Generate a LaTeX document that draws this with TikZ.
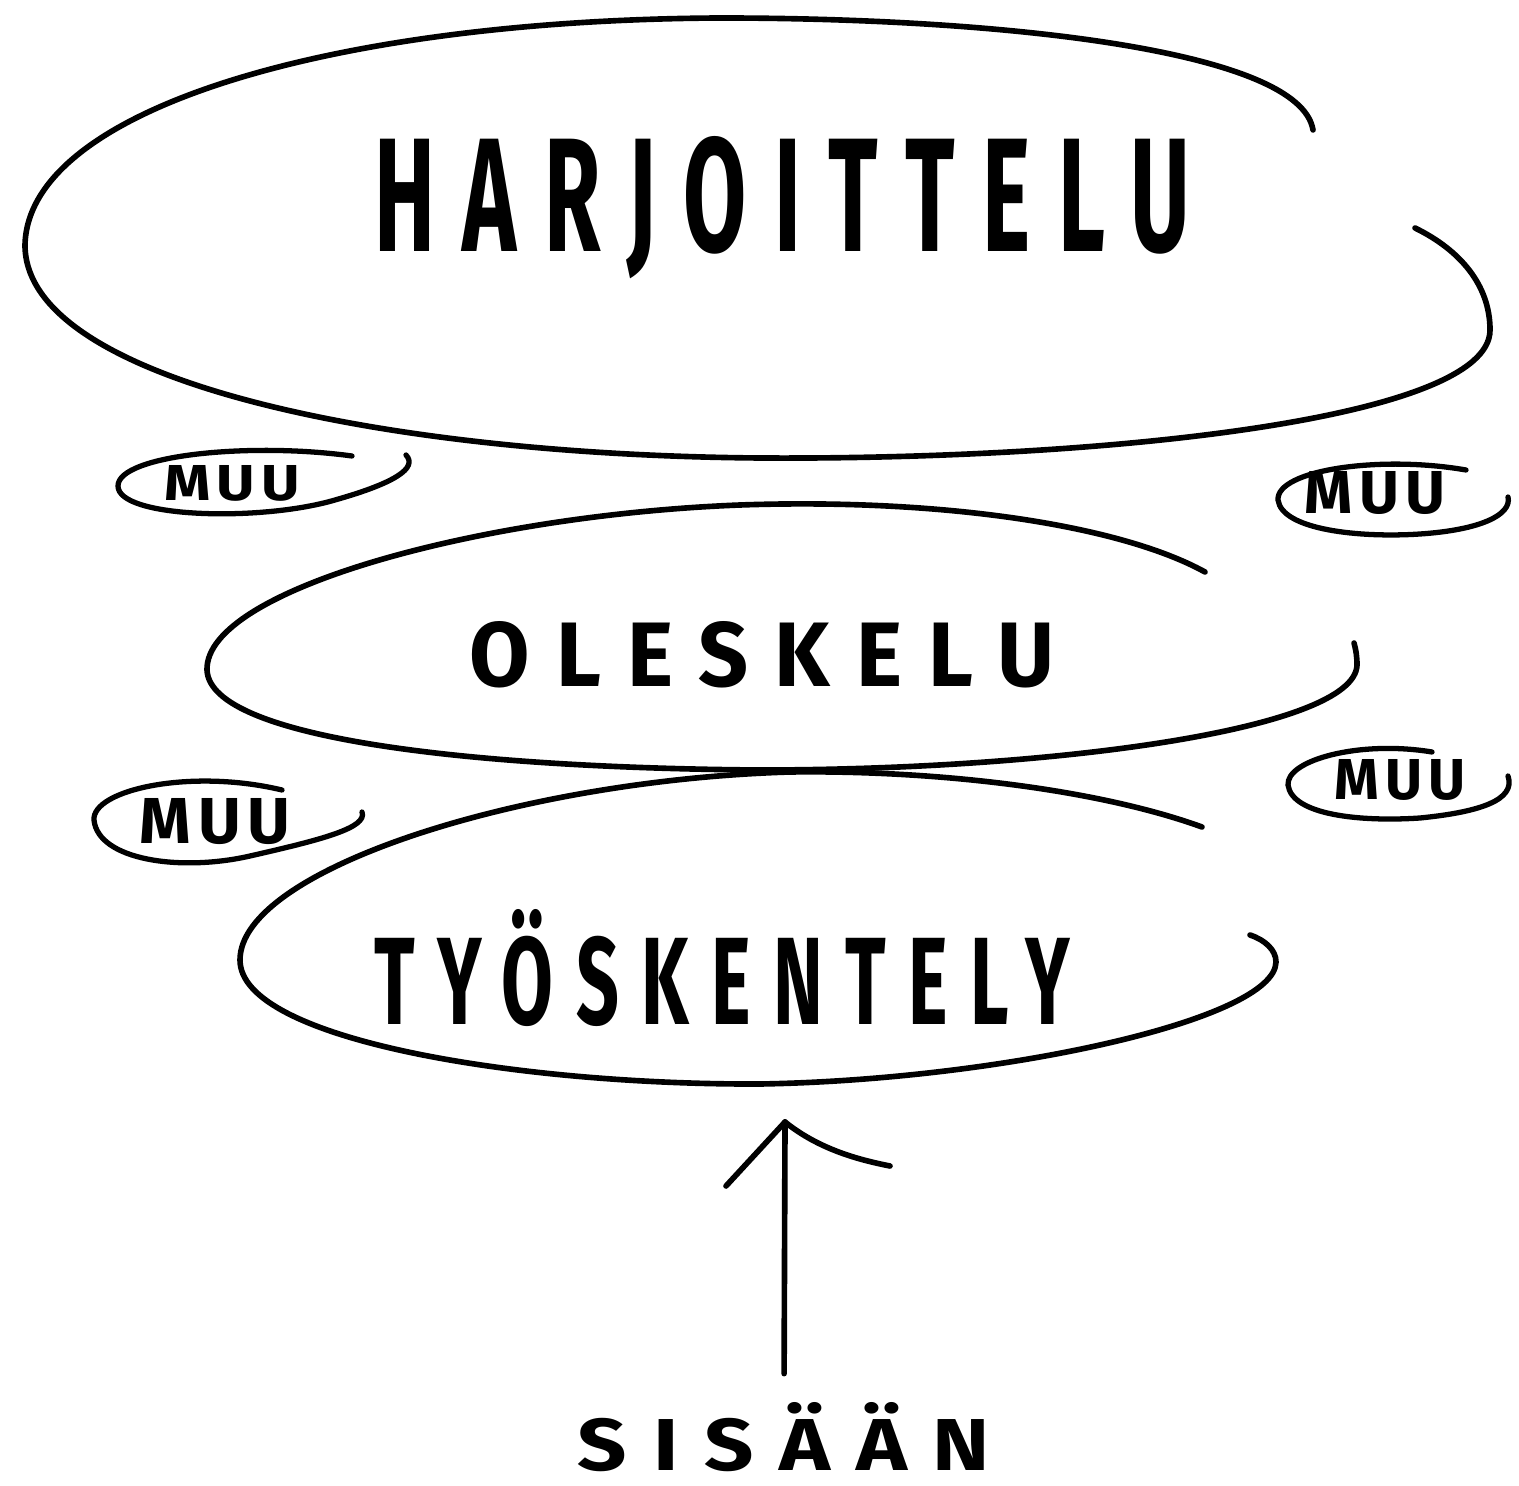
\documentclass[tikz,border=0pt]{standalone}
\usepackage{fontspec}
\setmainfont{Fira Sans}
\newfontfamily\handfont[LetterSpace=30]{Fira Sans}
\newfontfamily\muufont[LetterSpace=10]{Fira Sans}
\usetikzlibrary{arrows.meta}

\newcommand{\handword}[3]{\resizebox{#1}{#2}{#3}}

\begin{document}
\begin{tikzpicture}[
        x=0.01cm, y=-0.01cm,
        % hand drawn look
        loop_line/.style={draw=black, line width=1.6pt, line cap=round},
        muu_line/.style={draw=black, line width=1.5pt, line cap=round},
        word/.style={inner sep=0pt, font=\handfont\bfseries},
        muu_word/.style={inner sep=0pt, font=\muufont\bfseries}
    ]

    \useasboundingbox (0,0) rectangle (1519,1486);

    % --- words ---
    \node[word] (harjoittelu) at (782,208) {\handword{8.15cm}{1.15cm}{HARJOITTELU}};
    \node[word] (oleskelu) at (762,655) {\handword{5.85cm}{0.65cm}{OLESKELU}};
    \node[word] (tyoskentely) at (722,968) {\handword{6.95cm}{1.15cm}{TYÖSKENTELY}};
    \node[word] (sisaan) at (784,1437) {\handword{4.12cm}{0.68cm}{SISÄÄN}};

    \node[muu_word] (muu_a) at (232,483) {\handword{1.35cm}{0.35cm}{MUU}};
    \node[muu_word] (muu_b) at (1375,493) {\handword{1.4cm}{0.42cm}{MUU}};
    \node[muu_word] (muu_c) at (215,822) {\handword{1.5cm}{0.45cm}{MUU}};
    \node[muu_word] (muu_d) at (1400,780) {\handword{1.3cm}{0.4cm}{MUU}};

    % --- spiral loops ---
    \draw[loop_line] (1313,130) .. controls (1300,50) and (1000,18) .. (720,18)
        .. controls (330,20) and (28,110) .. (25,245)
        .. controls (25,380) and (380,455) .. (760,458)
        .. controls (1100,460) and (1490,420) .. (1490,330)
        .. controls (1490,285) and (1460,250) .. (1415,228);

    \draw[loop_line] (1205,572) .. controls (1120,525) and (940,498) .. (740,505)
        .. controls (480,515) and (205,590) .. (207,670)
        .. controls (210,740) and (480,768) .. (760,770)
        .. controls (1050,770) and (1355,730) .. (1357,665)
        .. controls (1357,657) and (1356,650) .. (1354,643);

    \draw[loop_line] (1202,827) .. controls (1100,790) and (940,770) .. (790,772)
        .. controls (520,780) and (240,870) .. (240,960)
        .. controls (240,1040) and (520,1085) .. (760,1084)
        .. controls (1000,1080) and (1275,1020) .. (1276,962)
        .. controls (1276,950) and (1265,940) .. (1250,935);

    % --- small loops ---
    \draw[muu_line] (352,456) .. controls (250,442) and (118,455) .. (118,486)
        .. controls (118,518) and (260,522) .. (335,500)
        .. controls (395,483) and (418,468) .. (406,455);
    \draw[muu_line] (1466,470) .. controls (1380,455) and (1276,470) .. (1278,500)
        .. controls (1282,530) and (1360,538) .. (1420,534)
        .. controls (1480,530) and (1512,515) .. (1508,497);
    \draw[muu_line] (282,790) .. controls (190,768) and (92,790) .. (94,820)
        .. controls (98,860) and (180,872) .. (250,856)
        .. controls (320,840) and (368,828) .. (362,812);
    \draw[muu_line] (1432,752) .. controls (1360,740) and (1286,760) .. (1288,785)
        .. controls (1292,815) and (1360,822) .. (1420,818)
        .. controls (1480,812) and (1516,800) .. (1508,776);

    % --- arrow into the bottom loop ---
    \coordinate (arrow_tip) at (785,1122);
    \draw[loop_line, shorten <=0.28cm] (sisaan.north) -- (arrow_tip);
    \draw[loop_line] (arrow_tip) -- (726,1186);
    \draw[loop_line] (arrow_tip) .. controls (820,1150) and (860,1160) .. (890,1166);

\end{tikzpicture}
\end{document}
